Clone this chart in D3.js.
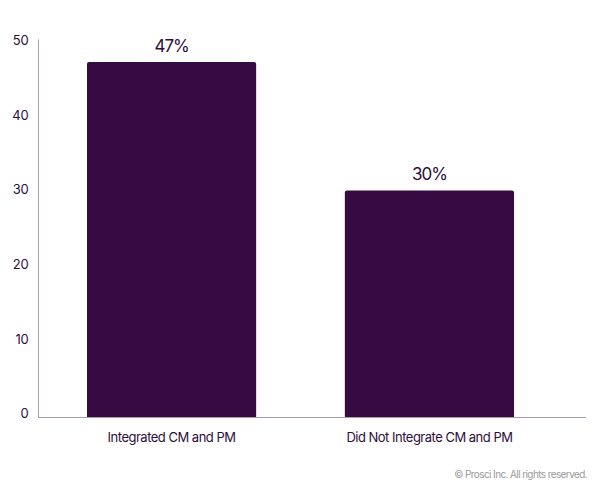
<!DOCTYPE html>
<html>
<head>
<meta charset="utf-8">
<script src="https://cdn.jsdelivr.net/npm/d3@7"></script>
<style>
  html, body { margin: 0; padding: 0; background: #fff; }
  svg { display: block; font-family: Inter, "Noto Sans", sans-serif; }
</style>
</head>
<body>
<svg id="chart" width="600" height="492"></svg>
<script>
const categories = ['Integrated CM and PM', 'Did Not Integrate CM and PM'];
const values = [47, 30];
const yTicks = [0, 10, 20, 30, 40, 50];

const svg = d3.select('#chart');
const barColor = '#380a44';
const textColor = '#2e0d3a';
const axisColor = '#a99bb0';

const x = d3.scaleBand()
  .domain(categories)
  .range([38, 563])
  .paddingInner(0.344)
  .paddingOuter(0.19);

const y = d3.scaleLinear()
  .domain([0, 50])
  .range([417, 39.4]);

// axis lines
svg.append('line')
  .attr('x1', 38.5).attr('x2', 38.5)
  .attr('y1', y(50)).attr('y2', y(0))
  .attr('stroke', axisColor).attr('stroke-width', 1);

svg.append('line')
  .attr('x1', 38).attr('x2', 586)
  .attr('y1', y(0) + 0.5).attr('y2', y(0) + 0.5)
  .attr('stroke', axisColor).attr('stroke-width', 1);

// y tick labels (spaced a little tighter than the bars, as in the original)
svg.selectAll('.ytick')
  .data(yTicks)
  .enter()
  .append('text')
  .attr('class', 'ytick')
  .attr('x', 28.5)
  .attr('y', d => y(d) - 2.5 + d * 0.1)
  .attr('text-anchor', 'end')
  .attr('dominant-baseline', 'middle')
  .style('font-size', '13px')
  .style('letter-spacing', '-0.2px')
  .style('fill', textColor)
  .text(d => d);

// bars with slightly rounded top corners
const r = 2;
svg.selectAll('.bar')
  .data(values)
  .enter()
  .append('path')
  .attr('class', 'bar')
  .attr('fill', barColor)
  .attr('d', (d, i) => {
    const x0 = x(categories[i]);
    const x1 = x0 + x.bandwidth();
    const yt = y(d);
    const yb = y(0);
    return `M${x0},${yb}V${yt + r}Q${x0},${yt} ${x0 + r},${yt}H${x1 - r}Q${x1},${yt} ${x1},${yt + r}V${yb}Z`;
  });

// value labels
svg.selectAll('.val')
  .data(values)
  .enter()
  .append('text')
  .attr('class', 'val')
  .attr('x', (d, i) => x(categories[i]) + x.bandwidth() / 2)
  .attr('y', d => y(d) - 10)
  .attr('text-anchor', 'middle')
  .style('font-size', '17px')
  .style('letter-spacing', '-1px')
  .style('fill', textColor)
  .text(d => d + '%');

// category labels
svg.selectAll('.cat')
  .data(categories)
  .enter()
  .append('text')
  .attr('class', 'cat')
  .attr('x', d => x(d) + x.bandwidth() / 2)
  .attr('y', 442)
  .attr('text-anchor', 'middle')
  .style('font-size', '13px')
  .style('letter-spacing', '-0.5px')
  .style('fill', textColor)
  .text(d => d);

// footer
svg.append('text')
  .attr('x', 587)
  .attr('y', 478)
  .attr('text-anchor', 'end')
  .style('font-size', '10px')
  .style('letter-spacing', '-0.6px')
  .style('fill', '#9a9a9a')
  .text('© Prosci Inc. All rights reserved.');
</script>
</body>
</html>
